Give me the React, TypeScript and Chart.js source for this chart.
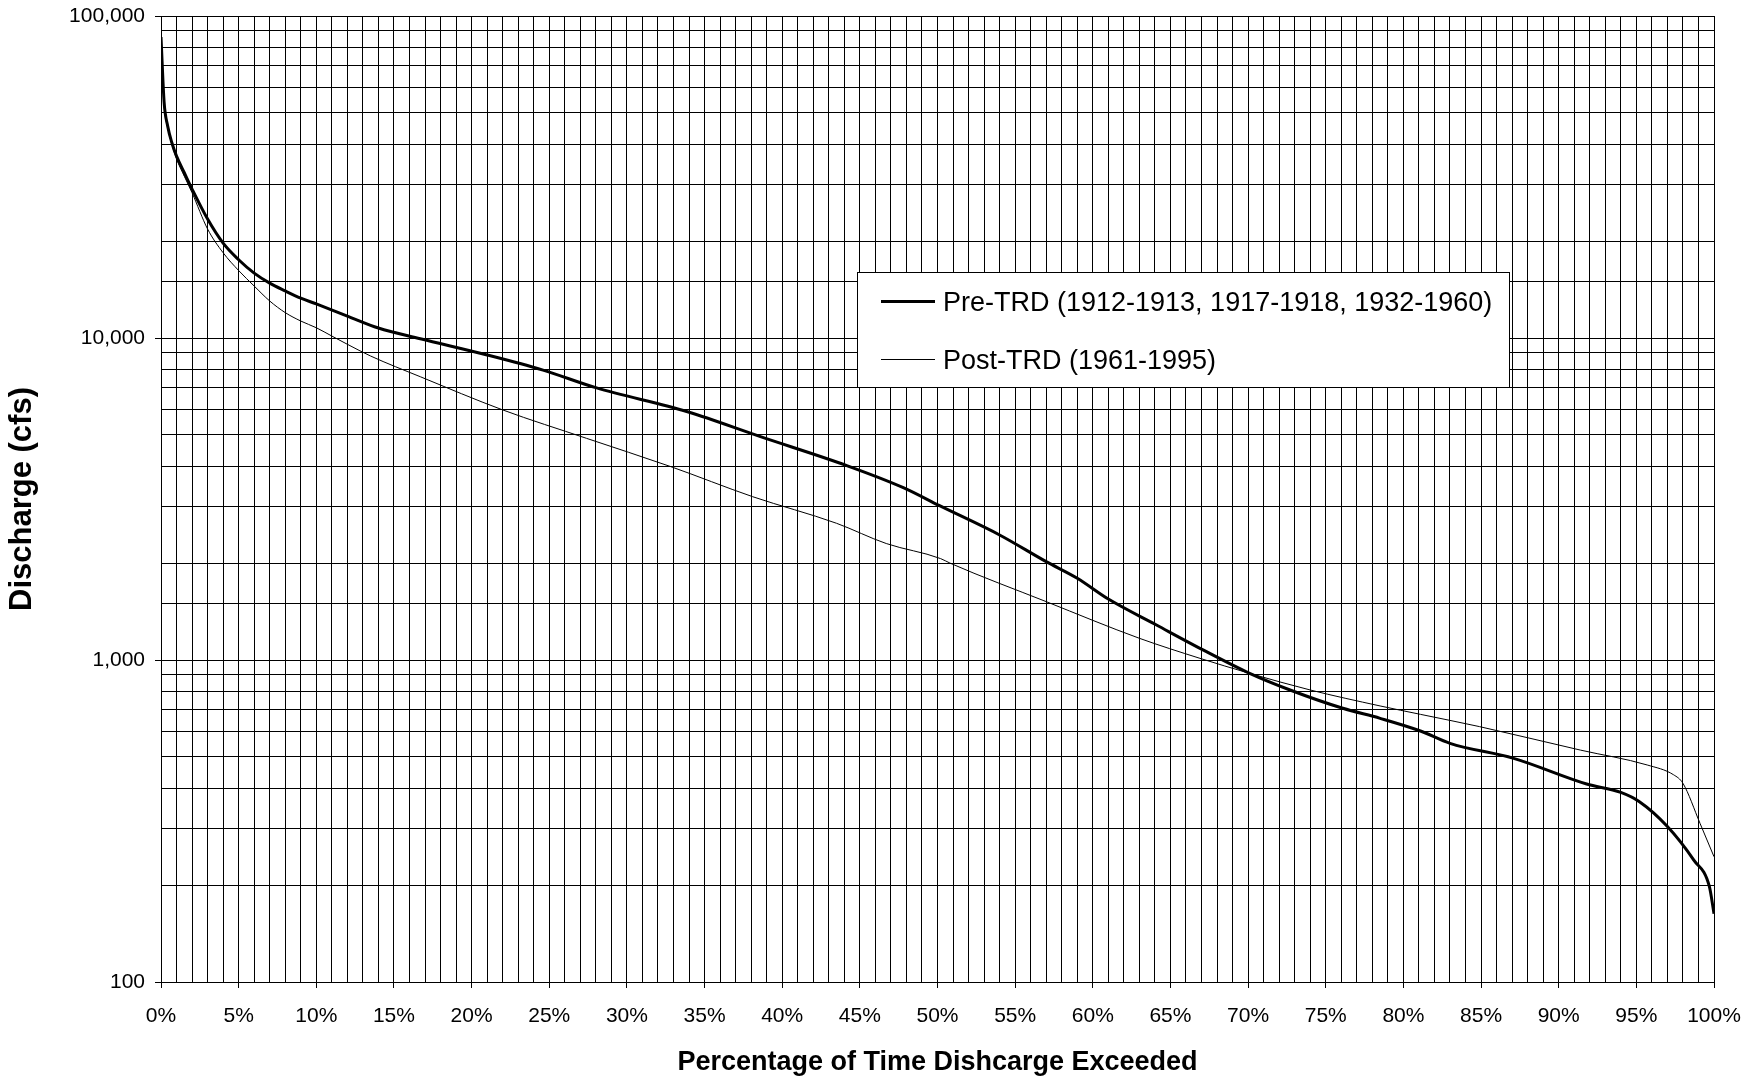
import React, { useEffect, useRef } from "react";
import { Chart, registerables } from "chart.js";

Chart.register(...registerables);

// ---- Data ----
const preTrdPct = [0, 0.2, 0.43, 0.7, 1, 1.5, 2, 3, 4, 5, 6, 7, 8, 9, 10, 12, 14, 16.7, 21, 24.6, 28, 33.9, 38.6, 44.2, 47.8, 50.1, 54, 57, 59, 61, 64.1, 66.9, 70.1, 72.7, 76.1, 78.5, 81.1, 83, 87.1, 91.8, 94, 95.2, 97, 98.7, 99.7, 100];
const preTrdCfs = [86000, 54000, 45500, 40400, 36700, 32600, 29000, 23400, 19700, 17500, 15900, 14800, 14000, 13300, 12760, 11700, 10740, 9950, 8860, 7950, 7010, 5900, 4940, 4010, 3430, 3020, 2445, 2020, 1794, 1546, 1284, 1087, 909, 807, 708, 659, 602, 551, 495, 412, 388, 363, 304, 239, 198, 163];

const postTrdPct = [0, 0.2, 0.43, 0.7, 1, 1.5, 2, 3, 4, 5, 6, 7, 8, 9, 10, 11, 12, 13.5, 16.7, 22, 27.4, 32.8, 38.1, 43.5, 46.7, 50.2, 50.8, 57, 63, 66.9, 70.1, 74, 78.5, 81.1, 84.9, 91.4, 95.7, 97.4, 98, 99.1, 100];
const postTrdCfs = [85000, 53000, 45000, 40000, 36000, 31800, 28250, 21800, 18400, 16200, 14500, 13030, 11990, 11290, 10760, 10140, 9560, 8790, 7580, 5980, 4880, 3990, 3215, 2658, 2300, 2065, 2000, 1518, 1168, 1012, 909, 807, 720, 678, 621, 525, 472, 440, 414, 311, 245];

const seriesLabels = ["Pre-TRD (1912-1913, 1917-1918, 1932-1960)", "Post-TRD (1961-1995)"];
const seriesWidths = [3, 1];

const xMin = 0;
const xMax = 100;
const xGridStep = 1;
const xLabelStep = 5;
const yTickLabels = [100, 1000, 10000, 100000];

const xTitle = "Percentage of Time Dishcarge Exceeded";
const yTitle = "Discharge (cfs)";

const FONT = "'Liberation Sans', Arial, Helvetica, sans-serif";
const W = 1758;
const H = 1081;

const toPoints = (xs: number[], ys: number[]) => xs.map((x, i) => ({ x, y: ys[i] }));

const boxLegend = {
  id: "boxLegend",
  afterDraw(chart: any) {
    const ctx = chart.ctx;
    const bx = 857.5;
    const by = 272.5;
    const bw = 652;
    const bh = 115;
    ctx.save();
    ctx.fillStyle = "#fff";
    ctx.fillRect(bx, by, bw, bh);
    ctx.strokeStyle = "#000";
    ctx.lineWidth = 1;
    ctx.strokeRect(bx, by, bw, bh);
    const rows = [
      { lineY: 301.5, textY: 304 },
      { lineY: 359.5, textY: 362 },
    ];
    chart.data.datasets.forEach((ds: any, i: number) => {
      const r = rows[i];
      ctx.beginPath();
      ctx.strokeStyle = ds.borderColor;
      ctx.lineWidth = ds.borderWidth;
      ctx.moveTo(881, r.lineY);
      ctx.lineTo(935, r.lineY);
      ctx.stroke();
      ctx.fillStyle = "#000";
      ctx.font = `27px ${FONT}`;
      ctx.textBaseline = "middle";
      ctx.textAlign = "left";
      ctx.fillText(ds.label, 943, r.textY);
    });
    ctx.restore();
  },
};

export default function App() {
  const ref = useRef<HTMLCanvasElement | null>(null);

  useEffect(() => {
    if (!ref.current) return;
    const chart = new Chart(ref.current, {
      type: "line",
      data: {
        datasets: [
          {
            label: seriesLabels[0],
            data: toPoints(preTrdPct, preTrdCfs),
            borderColor: "#000",
            borderWidth: seriesWidths[0],
            pointRadius: 0,
            fill: false,
            cubicInterpolationMode: "monotone",
            borderJoinStyle: "round",
          },
          {
            label: seriesLabels[1],
            data: toPoints(postTrdPct, postTrdCfs),
            borderColor: "#000",
            borderWidth: seriesWidths[1],
            pointRadius: 0,
            fill: false,
            cubicInterpolationMode: "monotone",
            borderJoinStyle: "round",
          },
        ],
      },
      options: {
        responsive: false,
        animation: false,
        devicePixelRatio: 1,
        layout: { padding: { top: 16, right: 44, left: 0, bottom: 0 } },
        plugins: {
          legend: { display: false },
          tooltip: { enabled: false },
        },
        scales: {
          x: {
            type: "linear",
            min: xMin,
            max: xMax,
            ticks: {
              stepSize: xGridStep,
              autoSkip: false,
              maxRotation: 0,
              minRotation: 0,
              padding: 16,
              color: "#000",
              font: { family: FONT, size: 21 },
              callback: (v: any) => (Number(v) % xLabelStep === 0 ? `${v}%` : ""),
            },
            grid: {
              color: "#000",
              lineWidth: 1,
              drawTicks: true,
              tickLength: 6,
              tickColor: (c: any) =>
                c.tick && Number(c.tick.value) % xLabelStep === 0 ? "#000" : "rgba(0,0,0,0)",
            },
            border: { display: true, color: "#000", width: 1 },
            title: {
              display: true,
              text: xTitle,
              color: "#000",
              font: { family: FONT, size: 27, weight: "bold" },
              padding: { top: 0, bottom: 2 },
            },
            afterFit: (s: any) => {
              s.height = 99;
              s.paddingLeft = 0;
              s.paddingRight = 0;
            },
          },
          y: {
            type: "logarithmic",
            min: yTickLabels[0],
            max: yTickLabels[yTickLabels.length - 1],
            ticks: {
              autoSkip: false,
              padding: 10,
              color: "#000",
              font: { family: FONT, size: 21 },
              callback: (v: any) =>
                yTickLabels.includes(Number(v)) ? Number(v).toLocaleString("en-US") : "",
            },
            grid: {
              color: "#000",
              lineWidth: 1,
              drawTicks: true,
              tickLength: 6,
              tickColor: (c: any) =>
                c.tick && yTickLabels.includes(Number(c.tick.value)) ? "#000" : "rgba(0,0,0,0)",
            },
            border: { display: true, color: "#000", width: 1 },
            title: {
              display: true,
              text: yTitle,
              color: "#000",
              font: { family: FONT, size: 31, weight: "bold" },
              padding: { top: 4, bottom: 0 },
            },
            afterFit: (s: any) => {
              s.width = 161;
              s.paddingTop = 0;
              s.paddingBottom = 0;
            },
          },
        },
      },
      plugins: [boxLegend],
    } as any);
    return () => chart.destroy();
  }, []);

  return (
    <div style={{ position: "fixed", left: 0, top: 0, width: W, height: H, background: "#fff" }}>
      <canvas ref={ref} width={W} height={H} style={{ display: "block", width: W, height: H }} />
    </div>
  );
}
